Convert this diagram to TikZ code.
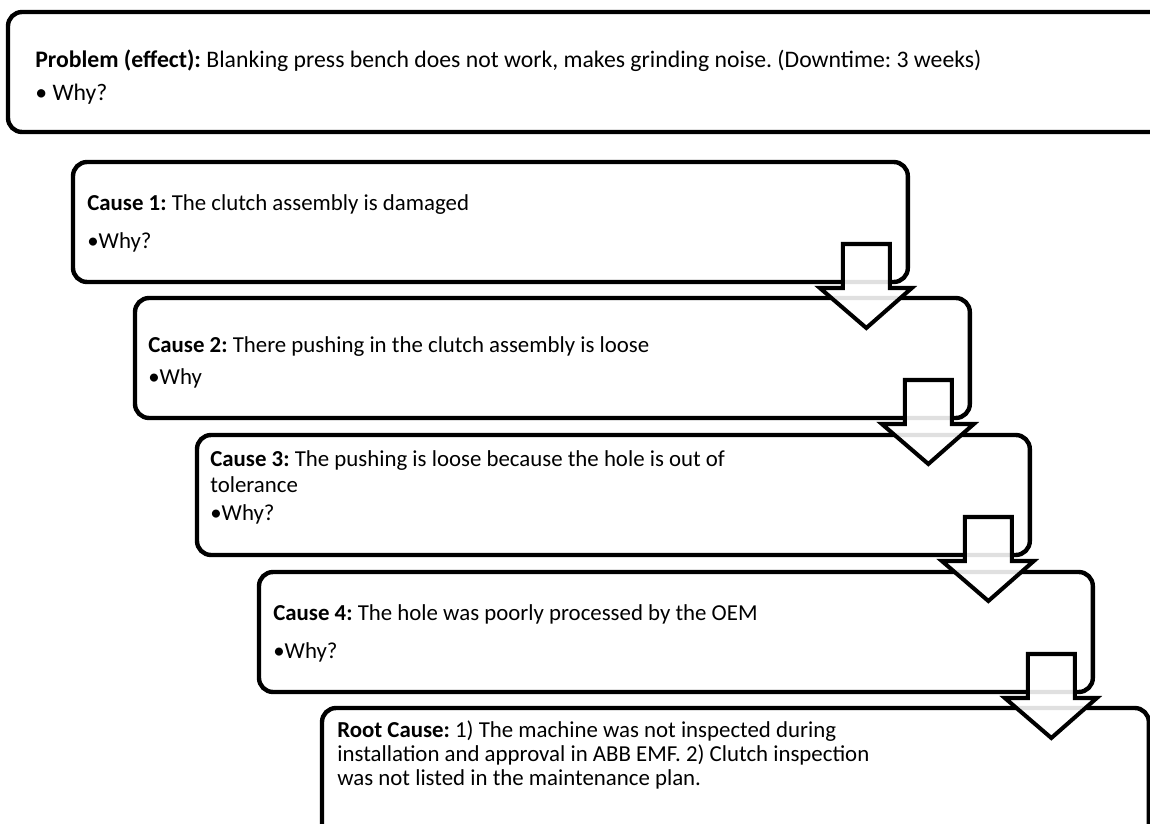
\documentclass[tikz,border=0pt]{standalone}
\usepackage{fontspec}
\setmainfont{Carlito}
\frenchspacing

\begin{document}
\begin{tikzpicture}[x=0.02cm, y=-0.02cm,
        whybox/.style={rectangle, draw, line width=2.5pt, rounded corners=8pt, anchor=north west, inner sep=0pt, outer sep=0pt, minimum height=2.4cm},
        whytext/.style={anchor=base west, inner sep=0pt, font=\fontsize{13}{15}\selectfont},
        problemtext/.style={anchor=base west, inner sep=0pt, font=\fontsize{13.5}{16}\selectfont},
        downarrow/.style={draw, line width=2.3pt, fill=white, fill opacity=0.88, line join=miter}]
        \useasboundingbox (0,0) rectangle (1150,823);
        \clip (0,0) rectangle (1150,823);

        \node[whybox, minimum width=23.3cm] (problem) at (8,12) {};
        \node[whybox, minimum width=16.7cm] (cause1) at (73,162) {};
        \node[whybox, minimum width=16.7cm] (cause2) at (135,298) {};
        \node[whybox, minimum width=16.66cm] (cause3) at (197,435) {};
        \node[whybox, minimum width=16.68cm] (cause4) at (259,572) {};
        \node[whybox, minimum width=16.54cm, minimum height=3.2cm] (root) at (322,708) {};

        \node[problemtext] (problemA) at (35,67) {\textbf{Problem (effect):} Blanking press bench does not work, makes grinding noise. (Downtime: 3 weeks)};
        \node[problemtext] (problemB) at (35,100) {\textbullet\ Why?};

        \node[whytext] (cause1A) at (87,210) {\textbf{Cause 1:} The clutch assembly is damaged};
        \node[whytext] (cause1B) at (87,248) {\textbullet Why?};

        \node[whytext] (cause2A) at (148,352) {\textbf{Cause 2:} There pushing in the clutch assembly is loose};
        \node[whytext] (cause2B) at (148,384) {\textbullet Why};

        \node[whytext] (cause3A) at (210,466) {\textbf{Cause 3:} The pushing is loose because the hole is out of};
        \node[whytext] (cause3B) at (210,492) {tolerance};
        \node[whytext] (cause3C) at (210,520) {\textbullet Why?};

        \node[whytext] (cause4A) at (273,620) {\textbf{Cause 4:} The hole was poorly processed by the OEM};
        \node[whytext] (cause4B) at (273,658) {\textbullet Why?};

        \node[whytext] (rootA) at (337,737) {\textbf{Root Cause:} 1) The machine was not inspected during};
        \node[whytext] (rootB) at (337,761) {installation and approval in ABB EMF. 2) Clutch inspection};
        \node[whytext] (rootC) at (337,785) {was not listed in the maintenance plan.};

        \begin{scope}[shift={(cause1.south east)}]
            \draw[downarrow] (-65,-38) -- (-18,-38) -- (-18,6) -- (4,6) -- (-41.5,46) -- (-88,6) -- (-65,6) -- cycle;
        \end{scope}
        \begin{scope}[shift={(cause2.south east)}]
            \draw[downarrow] (-65,-38) -- (-18,-38) -- (-18,6) -- (4,6) -- (-41.5,46) -- (-88,6) -- (-65,6) -- cycle;
        \end{scope}
        \begin{scope}[shift={(cause3.south east)}]
            \draw[downarrow] (-65,-38) -- (-18,-38) -- (-18,6) -- (4,6) -- (-41.5,46) -- (-88,6) -- (-65,6) -- cycle;
        \end{scope}
        \begin{scope}[shift={(cause4.south east)}]
            \draw[downarrow] (-65,-38) -- (-18,-38) -- (-18,6) -- (4,6) -- (-41.5,46) -- (-88,6) -- (-65,6) -- cycle;
        \end{scope}
    \end{tikzpicture}
\end{document}
